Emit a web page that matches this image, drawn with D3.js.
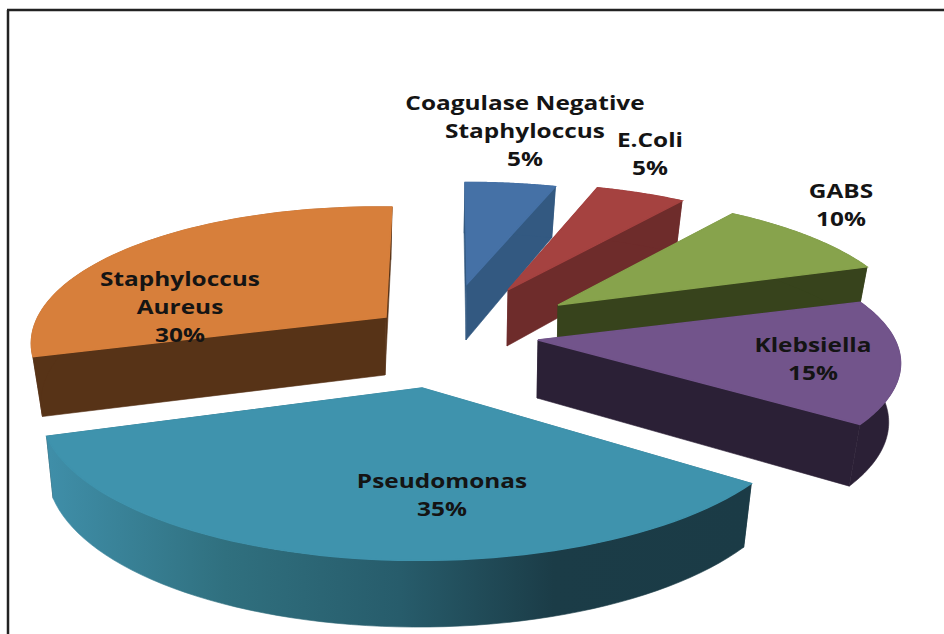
<!DOCTYPE html>
<html>
<head>
<meta charset="utf-8">
<script src="https://cdn.jsdelivr.net/npm/d3@7/dist/d3.min.js"></script>
<style>
  html, body { margin: 0; padding: 0; background: #fff; }
  svg { display: block; }
</style>
</head>
<body>
<svg id="chart" width="944" height="634"></svg>
<script>
// Organisms isolated, in pie order (clockwise from twelve o'clock)
const categories = ["Coagulase Negative Staphyloccus", "E.Coli", "GABS", "Klebsiella", "Pseudomonas", "Staphyloccus Aureus"];
const values = [5, 5, 10, 15, 35, 30];
const labelLines = [["Coagulase Negative", "Staphyloccus"], ["E.Coli"], ["GABS"], ["Klebsiella"], ["Pseudomonas"], ["Staphyloccus", "Aureus"]];
const topColors = ["#4571a6", "#a54240", "#87a34c", "#72548b", "#3f93ad", "#d77f3b"];
const wallColors = ["#335981", "#6e2c2b", "#37431c", "#2b2036", "url(#pseudoWall)", "#573317"];

// Where each exploded wedge sits and how large it is after the tilt.
// p is the strength of the perspective, lean and shear correct for the wedge's offset from
// the view axis, and shrink narrows the lower rim relative to the upper one.
const wedgeLayout = [
  { ax: 467, ay: 284, rx: 348, ry: 122, depth: 56, p: 0.2, lean: 12, shear: 0, shrink: 0.03 },
  { ax: 508, ay: 290, rx: 344, ry: 128, depth: 56, p: 0.2, lean: 0, shear: 0, shrink: 0.03 },
  { ax: 558, ay: 305, rx: 345, ry: 131, depth: 56, p: 0.2, lean: 0, shear: 0, shrink: 0.03 },
  { ax: 538, ay: 340, rx: 357, ry: 129, depth: 58, p: 0.175, lean: 0, shear: 0, shrink: 0.03 },
  { ax: 422, ay: 388, rx: 378, ry: 150, depth: 60, p: 0.13, lean: -22, shear: 0, shrink: 0.02 },
  { ax: 386, ay: 317, rx: 346, ry: 132, depth: 58, p: 0.2, lean: -36, shear: 4, shrink: 0.03 }
];
const labelAnchors = [[525, 103], [650, 140], [841, 191], [813, 345], [442, 481], [180, 279]];

const lineHeight = 28;
const textStretch = 1.22;
const pieDrawOrder = [0, 1, 2, 3, 5, 4];

const svg = d3.select("#chart");

const gradient = svg.append("defs").append("linearGradient")
  .attr("id", "pseudoWall")
  .attr("gradientUnits", "userSpaceOnUse")
  .attr("x1", 50).attr("x2", 750).attr("y1", 0).attr("y2", 0);
[[0, "#3f8ea8"], [0.25, "#30707f"], [0.5, "#275c6b"], [0.72, "#1b3c47"], [1, "#1b3b46"]]
  .forEach(([offset, color]) => gradient.append("stop").attr("offset", offset).attr("stop-color", color));

// Frame: only the top and left rules are in view
const frame = svg.append("g").attr("stroke", "#222").attr("stroke-width", 2.5);
frame.append("line").attr("x1", 7).attr("y1", 10).attr("x2", 944).attr("y2", 10);
frame.append("line").attr("x1", 8).attr("y1", 10).attr("x2", 8).attr("y2", 634);

const arcs = d3.pie().sort(null).startAngle(0).endAngle(2 * Math.PI)(values);

function topPoint(g, angle) {
  const z = Math.cos(angle);
  const s = Math.sin(angle);
  const w = 1 + g.p * z;
  return [
    g.ax + g.rx * s / w + g.lean * (1 / w - 1),
    g.ay - g.ry * z / w + g.shear * s
  ];
}
function bottomPoint(g, angle) {
  const [x, y] = topPoint(g, angle);
  return [x + (g.ax - x) * g.shrink - 1, y + g.depth / (1 + 0.1 * Math.cos(angle))];
}
const apexTop = g => [g.ax, g.ay];
const apexBottom = g => [g.ax - 1, g.ay + g.depth];

const outline = d3.line();
const closed = pts => outline(pts) + "Z";
const sweep = (a0, a1) => d3.range(0, 61).map(i => a0 + (a1 - a0) * i / 60);

const pieGroup = svg.append("g");
pieDrawOrder.forEach(i => {
  const g = wedgeLayout[i];
  const { startAngle: a0, endAngle: a1 } = arcs[i];
  const angles = sweep(a0, a1);
  const wedge = pieGroup.append("g").attr("class", "wedge");
  const wall = wallColors[i];

  // Cut faces first, then the rim; a hairline stroke closes the seams between the parts
  [a0, a1].forEach(a => {
    const faceColor = wall === "url(#pseudoWall)" ? "#1b3b46" : wall;
    wedge.append("path")
      .attr("d", closed([apexTop(g), topPoint(g, a), bottomPoint(g, a), apexBottom(g)]))
      .attr("fill", faceColor)
      .attr("stroke", faceColor)
      .attr("stroke-width", 0.6);
  });
  wedge.append("path")
    .attr("d", closed(angles.map(a => topPoint(g, a)).concat(angles.slice().reverse().map(a => bottomPoint(g, a)))))
    .attr("fill", wall)
    .attr("stroke", wall)
    .attr("stroke-width", 0.6);
  wedge.append("path")
    .attr("d", closed([apexTop(g)].concat(angles.map(a => topPoint(g, a)))))
    .attr("fill", topColors[i])
    .attr("stroke", topColors[i])
    .attr("stroke-width", 1.4);
});

// Category name with its percentage on the last line
const total = d3.sum(values);
const pct = d3.format(".0%");
const labels = svg.append("g")
  .attr("font-family", "'Open Sans', sans-serif")
  .attr("font-weight", 700)
  .attr("font-size", 20)
  .attr("fill", "#141414")
  .attr("text-anchor", "middle");

categories.forEach((name, i) => {
  const [cx, cy] = labelAnchors[i];
  labelLines[i].concat(pct(values[i] / total)).forEach((line, k) => {
    labels.append("text")
      .attr("transform", `translate(${cx},${cy + k * lineHeight}) scale(${textStretch},1)`)
      .attr("dy", "0.36em")
      .text(line);
  });
});
</script>
</body>
</html>
